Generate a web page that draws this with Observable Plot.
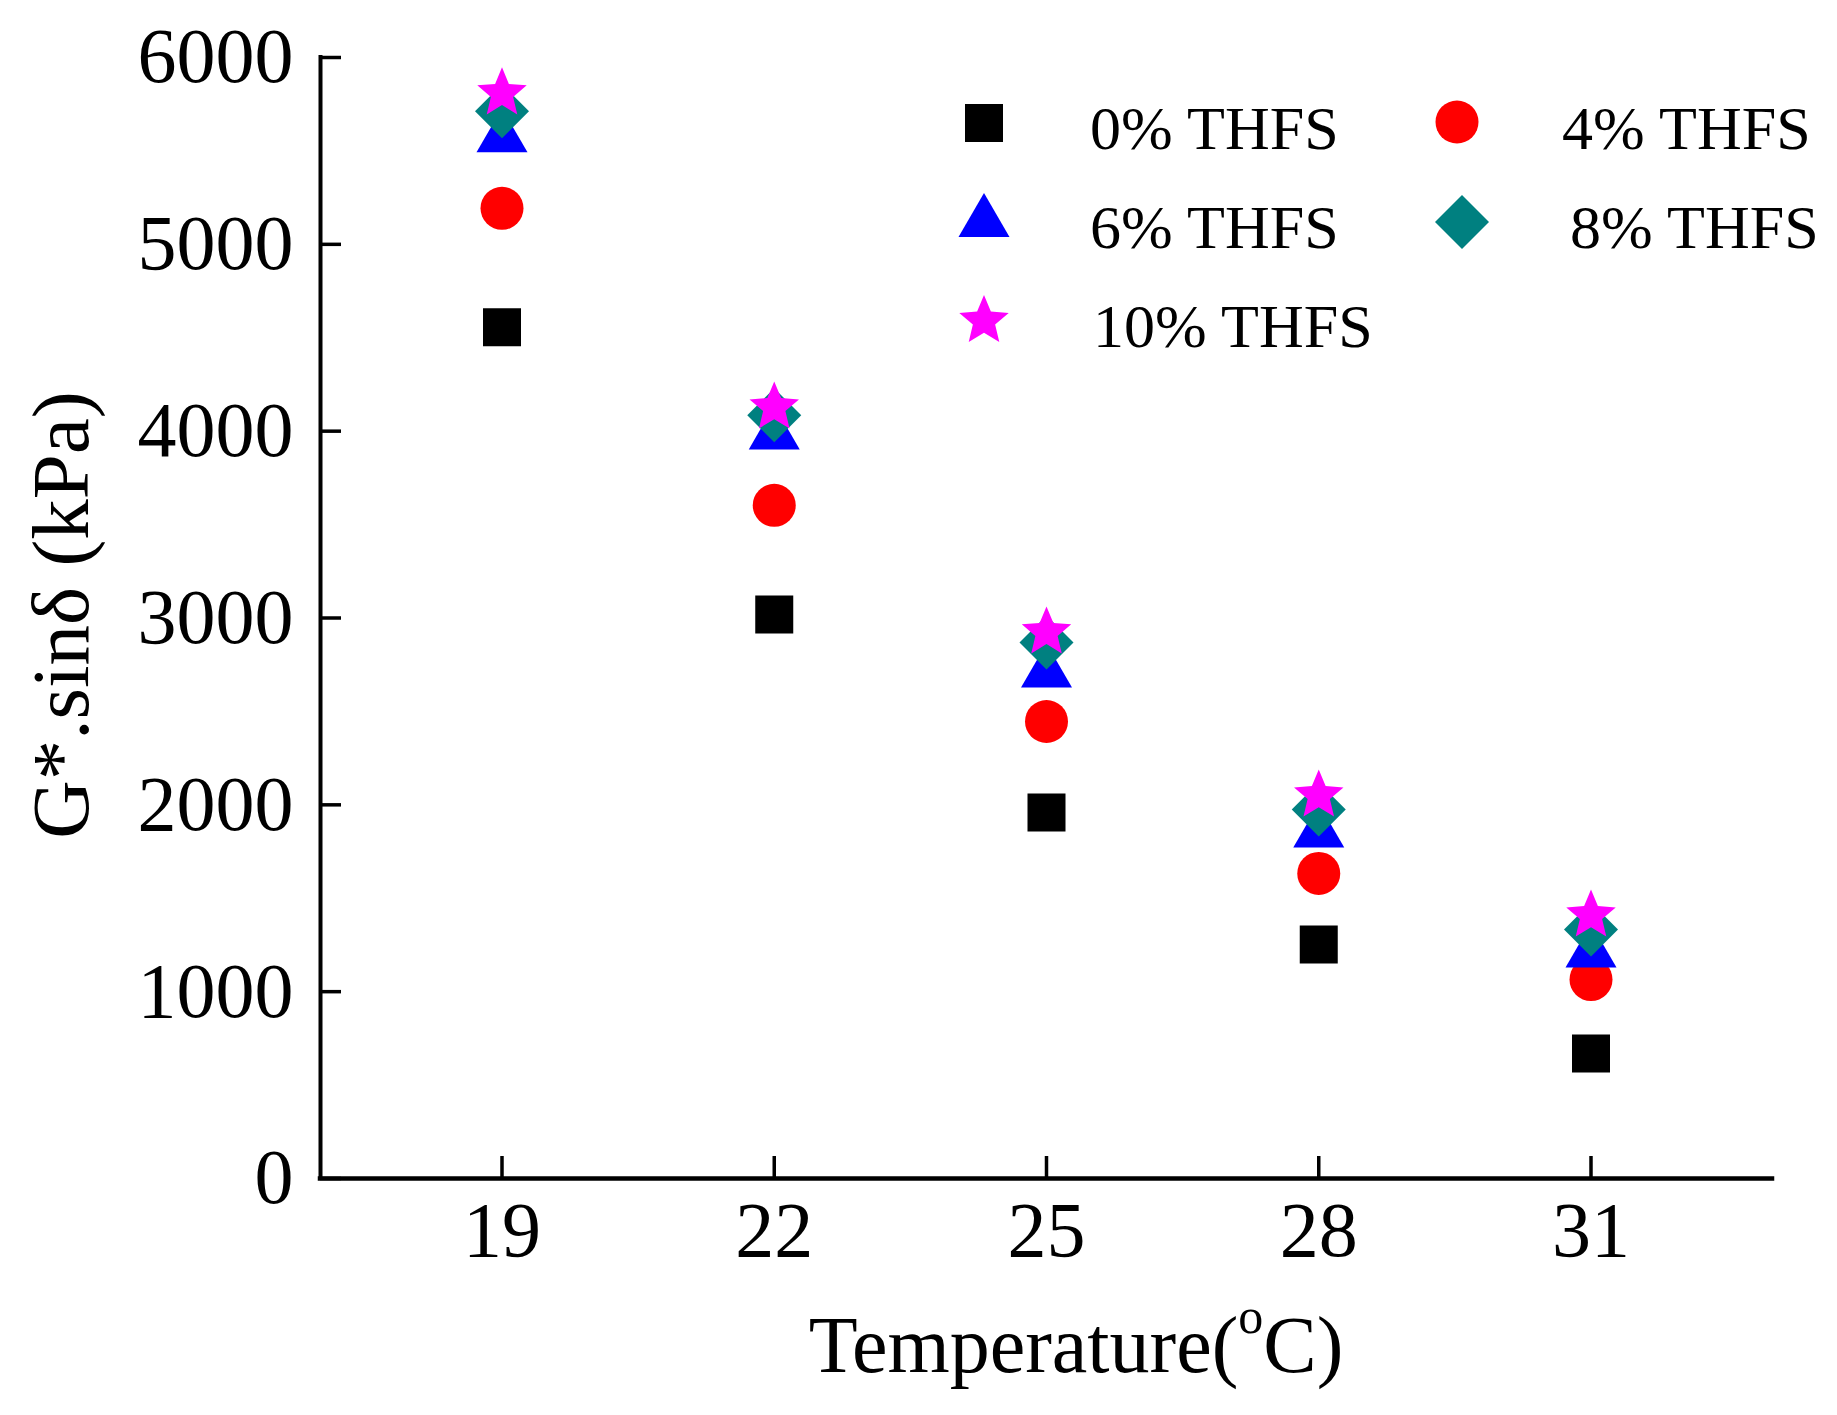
<!DOCTYPE html>
<html>
<head>
<meta charset="utf-8">
<script src="https://cdn.jsdelivr.net/npm/d3@7"></script>
<script src="https://cdn.jsdelivr.net/npm/@observablehq/plot@0.6"></script>
<style>
  html, body { margin: 0; padding: 0; background: #ffffff; }
  #chart svg { display: block; }
</style>
</head>
<body>
<div id="chart"></div>
<script>
// ---------------- data ----------------
const temperatures = [19, 22, 25, 28, 31];
const seriesNames = ["0% THFS", "4% THFS", "6% THFS", "8% THFS", "10% THFS"];
const values0 = [4556, 3019, 1959, 1253, 669];
const values4 = [5193, 3603, 2446, 1633, 1065];
const values6 = [5610, 4020, 2746, 1890, 1247];
const values8 = [5712, 4085, 2869, 1975, 1333];
const values10 = [5808, 4127, 2923, 2050, 1408];
const seriesColors = ["#000000", "#ff0000", "#0000ff", "#008080", "#ff00ff"];
const xTicks = [19, 22, 25, 28, 31];
const yTicks = [0, 1000, 2000, 3000, 4000, 5000, 6000];
const xLabel = ["Temperature(", "o", "C)"];
const yLabel = "G*.sinδ (kPa)";

// ---------------- symbols (Origin-like) ----------------
const U = 21.5;
const unit = size => Math.sqrt(size / Math.PI) / U;
const squareSym = {draw(c, size) { const h = 19 * unit(size);
  c.moveTo(-h, -h); c.lineTo(h, -h); c.lineTo(h, h); c.lineTo(-h, h); c.closePath(); }};
const circleSym = {draw(c, size) { const r = 21.5 * unit(size);
  c.moveTo(r, 0); c.arc(0, 0, r, 0, 2 * Math.PI); c.closePath(); }};
const triangleSym = {draw(c, size) { const u = unit(size);
  c.moveTo(0, -22 * u); c.lineTo(25.5 * u, 22 * u); c.lineTo(-25.5 * u, 22 * u); c.closePath(); }};
const diamondSym = {draw(c, size) { const h = 27 * unit(size);
  c.moveTo(0, -h); c.lineTo(h, 0); c.lineTo(0, h); c.lineTo(-h, 0); c.closePath(); }};
const starSym = {draw(c, size) { const u = unit(size), R = 26 * u, ri = 0.45 * R;
  for (let i = 0; i < 10; i++) {
    const a = -Math.PI / 2 + i * Math.PI / 5, rr = i % 2 ? ri : R;
    const px = rr * Math.cos(a), py = rr * Math.sin(a);
    if (i === 0) c.moveTo(px, py); else c.lineTo(px, py);
  }
  c.closePath(); }};
const seriesSymbols = [squareSym, circleSym, triangleSym, diamondSym, starSym];
const seriesValues = [values0, values4, values6, values8, values10];

// ---------------- layout ----------------
const W = 1837, H = 1415;
const mL = 320, mR = 65, mT = 57, mB = 237;
const plotW = W - mL - mR, plotH = H - mT - mB;
const FONT = "'Liberation Serif', 'Times New Roman', serif";

const dotMarks = seriesNames.map((name, i) => {
  const rows = temperatures.map((t, j) => ({temperature: t, value: seriesValues[i][j], series: name}));
  return Plot.dot(rows, {x: "temperature", y: "value", symbol: seriesSymbols[i], r: U, fill: seriesColors[i], stroke: "none"});
});

const chart = Plot.plot({
  width: W, height: H,
  marginLeft: mL, marginRight: mR, marginTop: mT, marginBottom: mB,
  x: {domain: [17, 33]},
  y: {domain: [0, 6000]},
  style: {fontFamily: FONT, fontSize: "78px", background: "#ffffff", color: "#000000"},
  marks: [
    Plot.axisX({ticks: xTicks, tickSize: 0, tickPadding: 22, tickFormat: d3.format("d"), label: null, fontSize: 78}),
    Plot.axisY({ticks: yTicks, tickSize: 0, tickPadding: 27, tickFormat: d3.format("d"), label: null, fontSize: 78}),
    Plot.ruleX(xTicks, {insetTop: plotH - 22, stroke: "#000", strokeWidth: 3.5}),
    Plot.ruleY(yTicks, {insetRight: plotW - 21, stroke: "#000", strokeWidth: 3.5}),
    Plot.ruleY([0], {stroke: "#000", strokeWidth: 4.5, strokeLinecap: "square"}),
    Plot.ruleX([17], {stroke: "#000", strokeWidth: 4, strokeLinecap: "square"}),
    ...dotMarks
  ]
});
document.getElementById("chart").appendChild(chart);

// ---------------- axis titles ----------------
const svg = d3.select(chart);
const xt = svg.append("text")
  .attr("x", 1076).attr("y", 1372)
  .attr("text-anchor", "middle")
  .style("font-family", FONT).style("font-size", "80px").attr("fill", "#000");
xt.append("tspan").text(xLabel[0]);
xt.append("tspan").attr("dy", -39).style("font-size", "50px").text(xLabel[1]);
xt.append("tspan").attr("dy", 39).text(xLabel[2]);

svg.append("text")
  .attr("transform", "translate(88,615) rotate(-90)")
  .attr("text-anchor", "middle")
  .style("font-family", FONT).style("font-size", "81px").attr("fill", "#000")
  .text(yLabel);

// ---------------- legend ----------------
const legendPos = [
  {sx: 984, sy: 123, tx: 1090, ty: 149},
  {sx: 1457, sy: 122, tx: 1562, ty: 149},
  {sx: 984, sy: 215, tx: 1090, ty: 248},
  {sx: 1462, sy: 222, tx: 1570, ty: 248},
  {sx: 984, sy: 321, tx: 1093, ty: 347}
];
const lg = svg.append("g").attr("class", "legend").attr("text-anchor", "start");
seriesNames.forEach((name, i) => {
  const p = legendPos[i];
  lg.append("path")
    .attr("d", d3.symbol(seriesSymbols[i], Math.PI * U * U)())
    .attr("transform", `translate(${p.sx},${p.sy})`)
    .attr("fill", seriesColors[i]);
  lg.append("text")
    .attr("x", p.tx).attr("y", p.ty)
    .attr("text-anchor", "start")
    .style("font-family", FONT).style("font-size", "62px").attr("fill", "#000")
    .text(name);
});
</script>
</body>
</html>
